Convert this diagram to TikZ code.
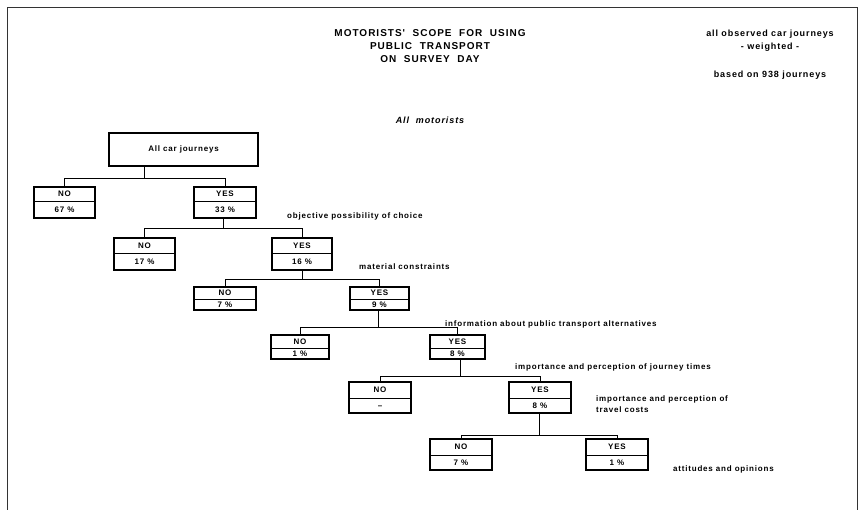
\documentclass[tikz,border=0pt]{standalone}
\usepackage{fontspec}
\setmainfont{Liberation Sans}
\newfontfamily\chartfont{Liberation Sans}[LetterSpace=10]
\newfontfamily\titlefont{Liberation Sans}[LetterSpace=10]
\usetikzlibrary{calc}

% a two-part decision box: name, left x, right x, top y, divider y, bottom y, upper text, lower text
\newcommand\choicebox[8]{%
  \node[cbox, minimum width={(#3-#2)*1pt}, minimum height={(#6-#4)*1pt}]
    (#1) at ({(#2+#3)/2},{(#4+#6)/2}) {};
  \draw[cdiv] ({#2},#5) -- ({#3},#5);
  \node[ctext] (#1-t) at ({(#2+#3)/2},{(#4+#5)/2}) {#7};
  \node[ctext] (#1-b) at ({(#2+#3)/2},{(#5+#6)/2}) {#8};
}
% split of a parent into its NO and YES children along a bar at the given height
\newcommand\branch[4]{%
  \coordinate (#2-bar) at (0,#4);
  \coordinate (#2-mid) at ($(#2.north |- #2-bar)!.5!(#3.north |- #2-bar)$);
  \draw[conn] (#2.north) |- (#2-bar -| #3.north) -- (#3.north);
  \draw[conn] (#1.south -| #2-mid) -- (#2-mid);
}

\begin{document}
\begin{tikzpicture}[x=1pt,y=-1pt,
  cbox/.style={draw, line width=1.1pt, inner sep=0pt},
  cdiv/.style={line width=0.9pt},
  ctext/.style={font=\chartfont\bfseries\fontsize{8}{9}\selectfont, inner sep=0pt,
                text height=6pt, text depth=0pt},
  conn/.style={line width=0.9pt},
  frame/.style={line width=0.8pt, black!80},
  lab/.style={font=\chartfont\bfseries\fontsize{8}{11}\selectfont, inner sep=0pt,
              anchor=west, align=left},
  head/.style={font=\chartfont\bfseries\fontsize{9}{13}\selectfont, inner sep=0pt,
               align=center},
  ttl/.style={font=\titlefont\bfseries\fontsize{10}{13}\selectfont, inner sep=0pt,
              align=center}]
\useasboundingbox (0,0) rectangle (860,510);

% page frame, open at the bottom
\draw[frame] (7,510) -- (7,7) -- (857,7) -- (857,510);

% headings
\node[ttl] (title) at (430,46) {MOTORISTS'\ \ SCOPE\ \ FOR\ \ USING\\PUBLIC\ \ TRANSPORT\\ON\ \ SURVEY\ \ DAY};
\node[head] (basis) at (770,40.5) {all observed car journeys\\- weighted -};
\node[head] (sample) at (770,75) {based on 938 journeys};
\node[head, font=\chartfont\bfseries\itshape\fontsize{9}{11}\selectfont] (group) at (430,120) {All\ \ motorists};

% root
\node[cbox, minimum width=149pt, minimum height=33pt,
      font=\chartfont\bfseries\fontsize{8}{9}\selectfont] (root) at (183.5,149.5) {All car journeys};

% decision boxes
\choicebox{n1}{34}{95}{187}{201}{218}{NO}{67 \%}
\choicebox{y1}{194}{256}{187}{201}{218}{YES}{33 \%}
\choicebox{n2}{114}{175}{238}{253}{270}{NO}{17 \%}
\choicebox{y2}{272}{332}{238}{253}{270}{YES}{16 \%}
\choicebox{n3}{194}{256}{287}{299}{310}{NO}{7 \%}
\choicebox{y3}{350}{409}{287}{299}{310}{YES}{9 \%}
\choicebox{n4}{271}{329}{335}{348}{359}{NO}{1 \%}
\choicebox{y4}{430}{485}{335}{348}{359}{YES}{8 \%}
\choicebox{n5}{349}{411}{382}{398}{413}{NO}{–}
\choicebox{y5}{509}{571}{382}{398}{413}{YES}{8 \%}
\choicebox{n6}{430}{492}{439}{455}{470}{NO}{7 \%}
\choicebox{y6}{586}{648}{439}{455}{470}{YES}{1 \%}

% connectors
\branch{root}{n1}{y1}{178}
\branch{y1}{n2}{y2}{228}
\branch{y2}{n3}{y3}{279}
\branch{y3}{n4}{y4}{327}
\branch{y4}{n5}{y5}{376}
\branch{y5}{n6}{y6}{435}

% criteria
\node[lab] (c1) at (287,216) {objective possibility of choice};
\node[lab] (c2) at (359,267) {material constraints};
\node[lab] (c3) at (445,324) {information about public transport alternatives};
\node[lab] (c4) at (515,367) {importance and perception of journey times};
\node[lab] (c5) at (596,404.5) {importance and perception of\\travel costs};
\node[lab] (c6) at (673,469) {attitudes and opinions};
\end{tikzpicture}
\end{document}
